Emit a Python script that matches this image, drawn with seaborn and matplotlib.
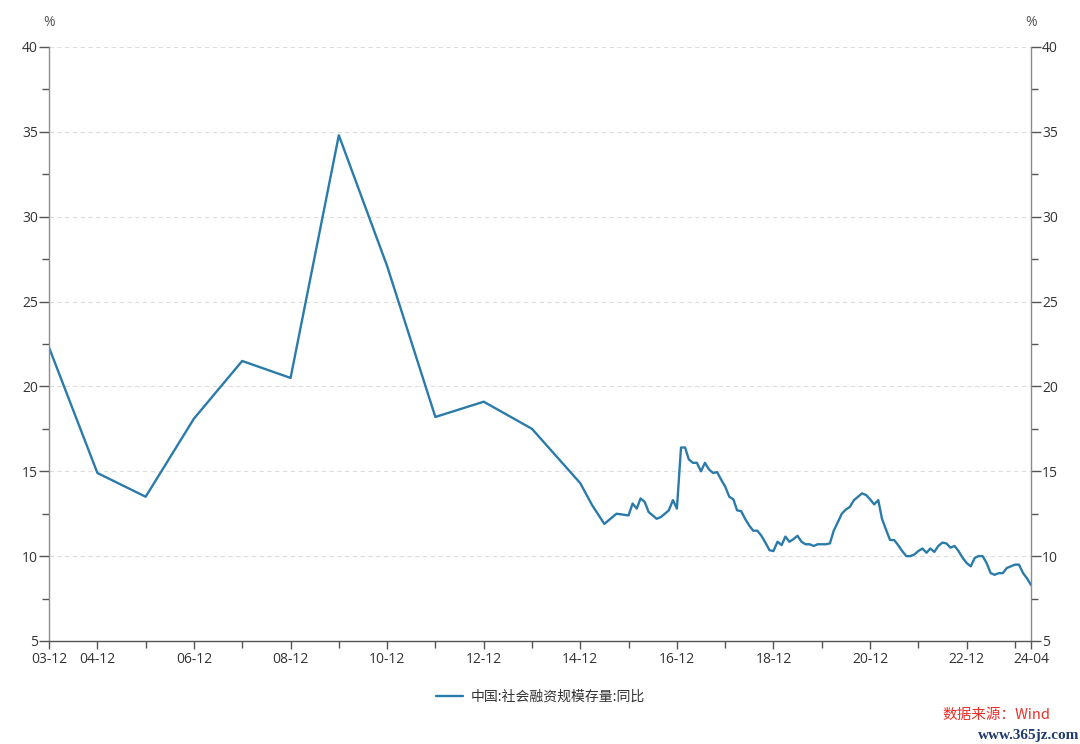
import pandas as pd
import matplotlib
matplotlib.use("Agg")
import matplotlib.pyplot as plt
import matplotlib.dates as mdates
import seaborn as sns

# ================= 数据 =================
annual_dates = pd.date_range("2003-12-01", "2014-12-01", freq="12MS")
annual_vals = [22.3, 14.9, 13.5, 18.1, 21.5, 20.5, 34.8, 27.1, 18.2, 19.1, 17.5, 14.3]

q2015_dates = pd.to_datetime(["2015-03-01", "2015-06-01", "2015-09-01", "2015-12-01"])
q2015_vals = [13.0, 11.9, 12.5, 12.4]

monthly_dates = pd.date_range("2016-01-01", "2024-04-01", freq="MS")
monthly_vals = [
    13.1, 12.8, 13.4, 13.2, 12.6, 12.4, 12.2, 12.3, 12.5, 12.7, 13.3, 12.8,   # 2016
    16.4, 16.4, 15.7, 15.5, 15.5, 15.0, 15.5, 15.1, 14.9, 14.95, 14.5, 14.1,  # 2017
    13.5, 13.35, 12.7, 12.65, 12.2, 11.8, 11.5, 11.5, 11.2, 10.8, 10.35, 10.3,  # 2018
    10.85, 10.65, 11.15, 10.85, 11.0, 11.2, 10.85, 10.7, 10.7, 10.6, 10.7, 10.7,  # 2019
    10.7, 10.75, 11.5, 12.0, 12.5, 12.75, 12.9, 13.3, 13.5, 13.7, 13.6, 13.35,  # 2020
    13.05, 13.3, 12.2, 11.55, 10.95, 10.95, 10.65, 10.3, 10.0, 10.0, 10.1, 10.3,  # 2021
    10.45, 10.2, 10.45, 10.25, 10.6, 10.8, 10.75, 10.5, 10.6, 10.3, 9.9, 9.6,  # 2022
    9.4, 9.9, 10.0, 10.0, 9.6, 9.0, 8.9, 9.0, 9.0, 9.3, 9.4, 9.5,  # 2023
    9.5, 9.0, 8.7, 8.3,  # 2024
]

series_name = "中国:社会融资规模存量:同比"
y_ticks = [5, 10, 15, 20, 25, 30, 35, 40]
x_major = ["2003-12", "2004-12", "2006-12", "2008-12", "2010-12", "2012-12",
           "2014-12", "2016-12", "2018-12", "2020-12", "2022-12", "2024-04"]
x_minor = ["2005-12", "2007-12", "2009-12", "2011-12", "2013-12", "2015-12",
           "2017-12", "2019-12", "2021-12", "2023-12"]

df = pd.DataFrame({
    "date": list(annual_dates) + list(q2015_dates) + list(monthly_dates),
    "value": annual_vals + q2015_vals + monthly_vals,
})
df["series"] = series_name

# ================= 绘图 =================
sns.set_theme(style="white")
plt.rcParams["font.family"] = ["Open Sans", "Noto Sans CJK SC", "DejaVu Sans"]
plt.rcParams["axes.unicode_minus"] = False

line_color = "#2B7BAA"
fig = plt.figure(figsize=(10.8, 7.44), dpi=100)
ax = fig.add_axes([49 / 1080, 1 - 641 / 744, 982 / 1080, 594 / 744])

sns.lineplot(data=df, x="date", y="value", hue="series", palette=[line_color],
             linewidth=1.7, ax=ax, legend=True)

ax.set_xlim(pd.Timestamp("2003-12-01"), pd.Timestamp("2024-04-01"))
ax.set_ylim(5, 40)
ax.set_yticks(y_ticks)
ax.set_yticks([v + 2.5 for v in y_ticks[:-1]], minor=True)
ax.set_xticks(pd.to_datetime(x_major))
ax.set_xticks(pd.to_datetime(x_minor), minor=True)
ax.xaxis.set_major_formatter(mdates.DateFormatter("%y-%m"))
ax.set_xlabel("")
ax.set_ylabel("")

ax.grid(axis="y", which="major", color="#DDDDDD", linestyle=(0, (4, 3)), linewidth=0.8)
ax.grid(axis="x", visible=False)

for side in ["left", "right"]:
    ax.spines[side].set_color("#8C8C8C")
    ax.spines[side].set_linewidth(1.0)
ax.spines["bottom"].set_color("#555555")
ax.spines["bottom"].set_linewidth(1.0)
ax.spines["top"].set_visible(False)

ax.tick_params(axis="y", which="both", left=True, right=True, labelleft=True,
               labelright=True, color="#555555", labelcolor="#333333",
               labelsize=10, pad=1)
ax.tick_params(axis="y", which="major", length=7, width=1)
ax.tick_params(axis="y", which="minor", length=5, width=1)
ax.tick_params(axis="x", which="both", bottom=True, color="#555555",
               labelcolor="#333333", labelsize=10, pad=2, width=1)
ax.tick_params(axis="x", which="major", length=6)
ax.tick_params(axis="x", which="minor", length=5)

fig.text(49 / 1080, 1 - 22 / 744, "%", ha="center", va="center",
         fontsize=10, color="#555555")
fig.text(1031 / 1080, 1 - 22 / 744, "%", ha="center", va="center",
         fontsize=10, color="#555555")

leg = ax.legend(loc="center", bbox_to_anchor=(0.5, 1 - 697 / 744),
                bbox_transform=fig.transFigure, frameon=False,
                handlelength=2.0, handletextpad=0.5, title=None,
                prop={"family": ["Noto Sans CJK SC", "DejaVu Sans"], "size": 10})
for t in leg.get_texts():
    t.set_color("#333333")

# 水印
fig.text(1050 / 1080, 1 - 715 / 744, "数据来源：Wind", ha="right", va="center",
         fontsize=10.5, color="#E8302A", family=["Noto Sans CJK SC", "DejaVu Sans"])
fig.text(1079 / 1080, 1 - 735 / 744, "www.365jz.com", ha="right", va="center",
         fontsize=11, color="#1F3A6E", weight="bold",
         family=["Liberation Serif", "DejaVu Serif"])

fig.savefig("out.png", dpi=100)
